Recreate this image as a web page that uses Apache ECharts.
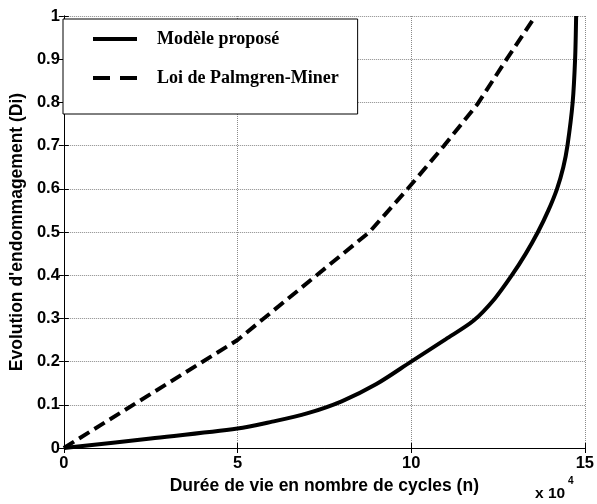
<!DOCTYPE html>
<html>
<head>
<meta charset="utf-8">
<script src="https://cdn.jsdelivr.net/npm/echarts@6/dist/echarts.min.js"></script>
<style>
  html, body { margin: 0; padding: 0; background: #fff; }
  #chart { width: 597px; height: 504px; }
</style>
</head>
<body>
<div id="chart"></div>
<script>
// cycles in units of 10^4
const modeleX = [0, 2.5, 5, 6, 7, 8, 9, 10, 11, 11.8, 12.4, 12.9, 13.3, 13.65, 13.95, 14.2, 14.38, 14.5, 14.65, 14.72, 14.75];
const modeleY = [0, 0.022, 0.045, 0.061, 0.08, 0.108, 0.148, 0.2, 0.252, 0.295, 0.345, 0.4, 0.45, 0.5, 0.55, 0.6, 0.65, 0.7, 0.8, 0.9, 1.0];

const minerX = [0, 5, 8.8, 9.9, 10.95, 11.9, 12.75, 13.58];
const minerY = [0, 0.25, 0.5, 0.6, 0.7, 0.795, 0.9, 1.0];

const seriesNames = ["Modèle proposé", "Loi de Palmgren-Miner"];

const zip = (xs, ys) => xs.map((x, i) => [x, ys[i]]);

const chart = echarts.init(document.getElementById("chart"));

const tickFont = {
  fontFamily: "Liberation Sans, Arial",
  fontWeight: "bold",
  fontSize: 16.5,
  color: "#000"
};

chart.setOption({
  animation: false,
  grid: { left: 62, right: 7, top: 16, bottom: 56 },
  legend: {
    orient: "vertical",
    left: 63,
    top: 19,
    padding: [11, 19, 27, 30],
    itemWidth: 44,
    itemHeight: 4,
    itemGap: 21,
    borderColor: "#000",
    borderWidth: 1,
    backgroundColor: "#fff",
    selectedMode: false,
    itemStyle: { color: "#000", borderWidth: 0 },
    textStyle: {
      fontFamily: "Liberation Serif, Times New Roman",
      fontWeight: "bold",
      fontSize: 18,
      color: "#000",
      padding: [0, 0, 0, 15]
    },
    data: [
      { name: seriesNames[0], icon: "path://M0,0H44V4H0Z" },
      { name: seriesNames[1], icon: "path://M0,0H17V4H0Z M27,0H44V4H27Z" }
    ]
  },
  xAxis: [
    {
      type: "value",
      min: 0,
      max: 15,
      interval: 5,
      name: "Durée de vie en nombre de cycles (n)",
      nameLocation: "middle",
      nameGap: 29,
      nameTextStyle: { ...tickFont, fontSize: 17.5 },
      axisLine: { lineStyle: { color: "#000", width: 1 } },
      axisTick: { inside: true, length: 5, lineStyle: { color: "#000" } },
      axisLabel: { ...tickFont, margin: 7 },
      splitLine: { show: true, lineStyle: { color: "#8a8a8a", type: "dotted", width: 1 } }
    },
    {
      type: "value",
      position: "top",
      min: 0,
      max: 15,
      interval: 5,
      axisLine: { lineStyle: { color: "#000", width: 1 } },
      axisTick: { inside: true, length: 5, lineStyle: { color: "#000" } },
      axisLabel: { show: false },
      splitLine: { show: false }
    }
  ],
  yAxis: [
    {
      type: "value",
      min: 0,
      max: 1,
      interval: 0.1,
      name: "Evolution d'endommagement (Di)",
      nameLocation: "middle",
      nameGap: 33,
      nameTextStyle: { ...tickFont, fontSize: 17.5 },
      axisLine: { show: true, lineStyle: { color: "#000", width: 1 } },
      axisTick: { show: true, inside: true, length: 5, lineStyle: { color: "#000" } },
      axisLabel: { ...tickFont, margin: 4 },
      splitLine: { show: true, lineStyle: { color: "#8a8a8a", type: "dotted", width: 1 } }
    },
    {
      type: "value",
      position: "right",
      min: 0,
      max: 1,
      interval: 0.1,
      axisLine: { show: true, lineStyle: { color: "#000", width: 1 } },
      axisTick: { show: true, inside: true, length: 5, lineStyle: { color: "#000" } },
      axisLabel: { show: false },
      splitLine: { show: false }
    }
  ],
  series: [
    {
      name: seriesNames[0],
      type: "line",
      data: zip(modeleX, modeleY),
      smooth: 0.3,
      symbol: "none",
      lineStyle: { color: "#000", width: 4 },
      itemStyle: { color: "#000" }
    },
    {
      name: seriesNames[1],
      type: "line",
      data: zip(minerX, minerY),
      symbol: "none",
      lineStyle: { color: "#000", width: 4, type: [12, 6] },
      itemStyle: { color: "#000" }
    }
  ],
  graphic: [
    {
      type: "text",
      left: 535,
      top: 486,
      style: {
        text: "x 10",
        font: "bold 15.5px Liberation Sans, Arial",
        fill: "#000"
      }
    },
    {
      type: "text",
      left: 568,
      top: 476,
      style: {
        text: "4",
        font: "bold 10px Liberation Sans, Arial",
        fill: "#000"
      }
    }
  ]
});
</script>
</body>
</html>
